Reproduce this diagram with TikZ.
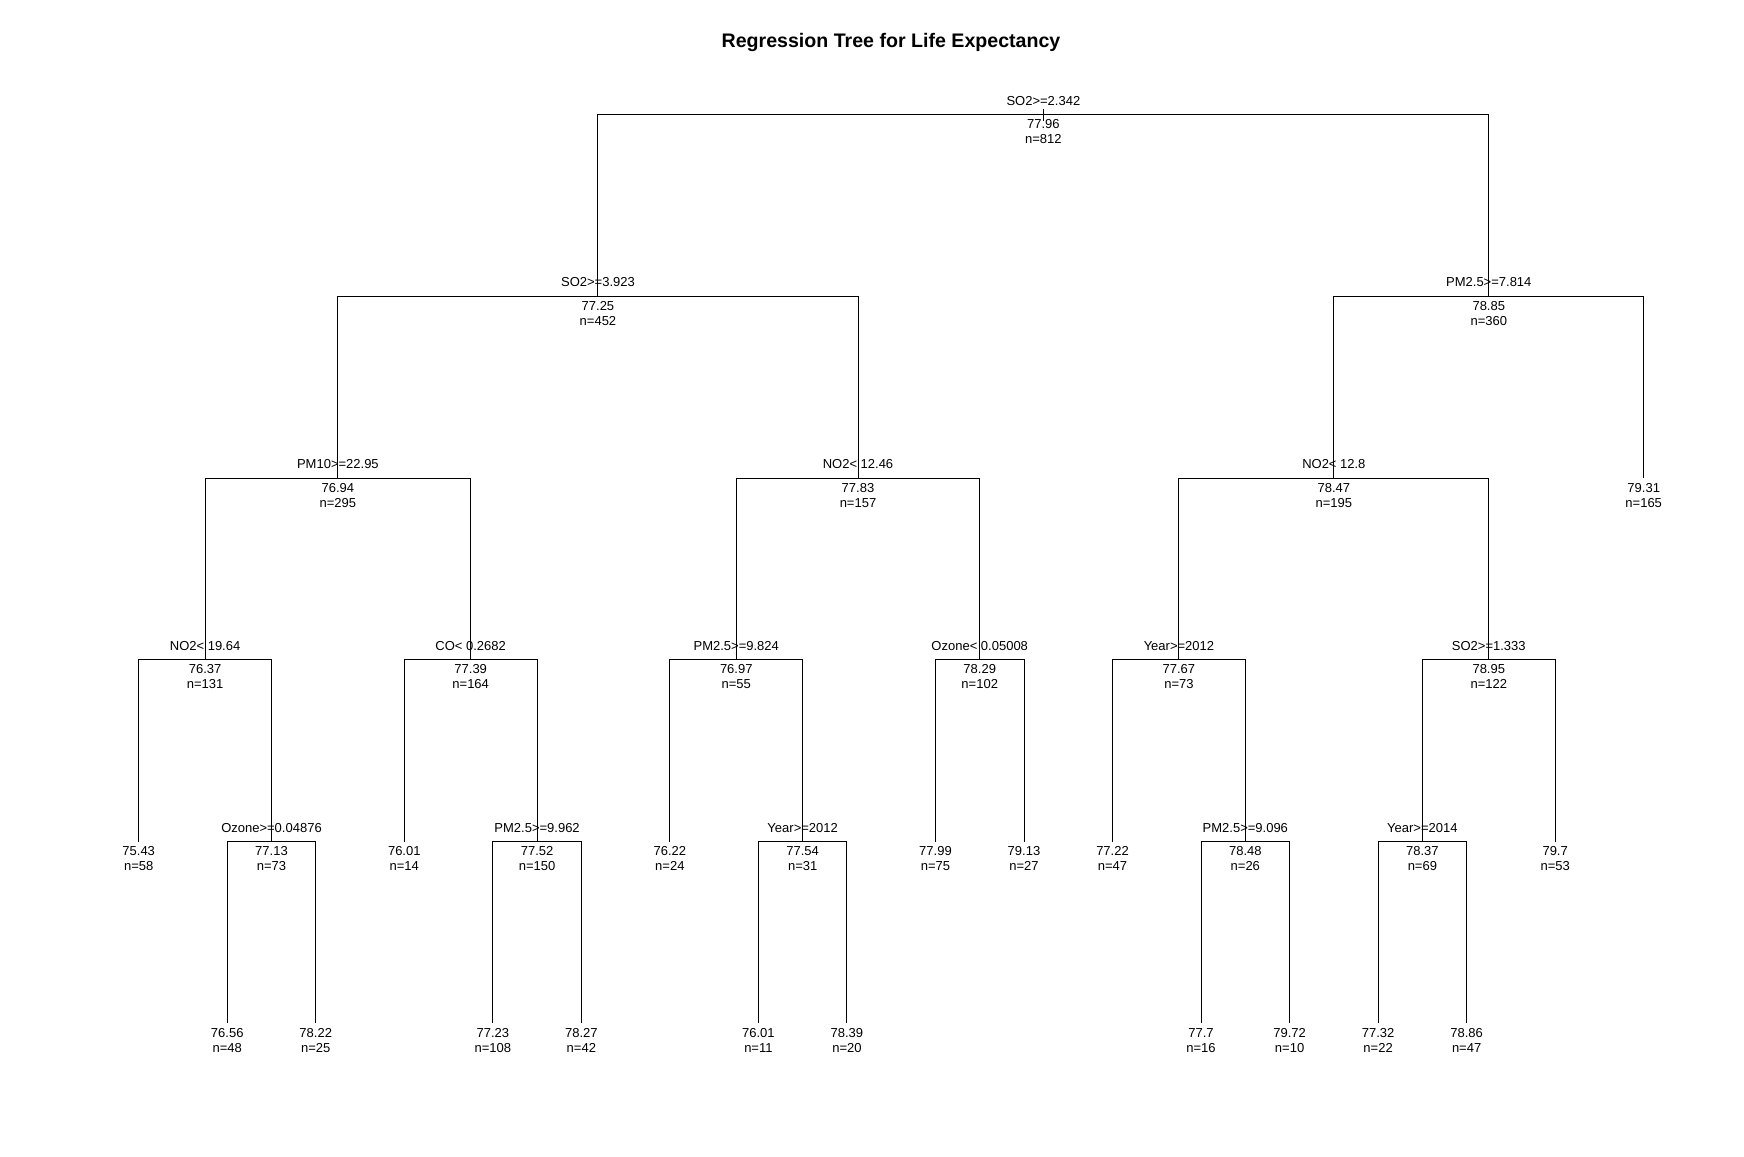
\documentclass[tikz,border=0pt]{standalone}
\usepackage{fontspec}
\setmainfont{Liberation Sans}
\usetikzlibrary{calc}
\newcommand{\mysplit}[6]{%
  \coordinate (#1) at (#2,#3);
  \node[lbl] (#1s) at ($(#1)+(0,-9.5)$) {#4};
  \node[lbl] (#1v) at ($(#1)+(0,14)$) {#5};
  \node[lbl] (#1n) at ($(#1)+(0,29)$) {#6};
}
\newcommand{\myleaf}[5]{%
  \coordinate (#1) at (#2,#3);
  \node[lbl] (#1v) at ($(#1)+(0,14)$) {#4};
  \node[lbl] (#1n) at ($(#1)+(0,29)$) {#5};
}
\begin{document}
\begin{tikzpicture}[x=1pt,y=-1pt,
  lbl/.style={anchor=base,inner sep=0pt,font=\fontsize{13}{15}\selectfont},
  ttl/.style={anchor=base,inner sep=0pt,font=\fontsize{19.6}{23}\selectfont\bfseries},
  branch/.style={draw=black,line width=1pt}]
\useasboundingbox (0,0) rectangle (1744,1156);
\fill[white] (0,0) rectangle (1744,1156);
\node[ttl] (title) at (891,48) {Regression Tree for Life Expectancy};
\begin{scope}[shift={(0.8,1)}]
% levels
\def\ya{113.5}\def\yb{295.25}\def\yc{477}\def\yd{658.75}\def\ye{840.5}\def\yf{1022.25}
% internal nodes
\mysplit{A}{1042.56}{\ya}{SO2>=2.342}{77.96}{n=812}
\mysplit{B}{597.15}{\yb}{SO2>=3.923}{77.25}{n=452}
\mysplit{C}{1487.98}{\yb}{PM2.5>=7.814}{78.85}{n=360}
\mysplit{D}{337.09}{\yc}{PM10>=22.95}{76.94}{n=295}
\mysplit{E}{857.20}{\yc}{NO2< 12.46}{77.83}{n=157}
\mysplit{N}{1333.05}{\yc}{NO2< 12.8}{78.47}{n=195}
\mysplit{F}{204.30}{\yd}{NO2< 19.64}{76.37}{n=131}
\mysplit{G}{469.89}{\yd}{CO< 0.2682}{77.39}{n=164}
\mysplit{J}{735.47}{\yd}{PM2.5>=9.824}{76.97}{n=55}
\mysplit{K}{978.93}{\yd}{Ozone< 0.05008}{78.29}{n=102}
\mysplit{O}{1178.12}{\yd}{Year>=2012}{77.67}{n=73}
\mysplit{P}{1487.97}{\yd}{SO2>=1.333}{78.95}{n=122}
\mysplit{H}{270.70}{\ye}{Ozone>=0.04876}{77.13}{n=73}
\mysplit{I}{536.28}{\ye}{PM2.5>=9.962}{77.52}{n=150}
\mysplit{M}{801.87}{\ye}{Year>=2012}{77.54}{n=31}
\mysplit{Q}{1244.52}{\ye}{PM2.5>=9.096}{78.48}{n=26}
\mysplit{R}{1421.58}{\ye}{Year>=2014}{78.37}{n=69}
% leaves
\myleaf{L1}{137.90}{\ye}{75.43}{n=58}
\myleaf{L2}{226.43}{\yf}{76.56}{n=48}
\myleaf{L3}{314.96}{\yf}{78.22}{n=25}
\myleaf{L4}{403.49}{\ye}{76.01}{n=14}
\myleaf{L5}{492.02}{\yf}{77.23}{n=108}
\myleaf{L6}{580.55}{\yf}{78.27}{n=42}
\myleaf{L7}{669.07}{\ye}{76.22}{n=24}
\myleaf{L8}{757.60}{\yf}{76.01}{n=11}
\myleaf{L9}{846.13}{\yf}{78.39}{n=20}
\myleaf{L10}{934.66}{\ye}{77.99}{n=75}
\myleaf{L11}{1023.19}{\ye}{79.13}{n=27}
\myleaf{L12}{1111.72}{\ye}{77.22}{n=47}
\myleaf{L13}{1200.25}{\yf}{77.7}{n=16}
\myleaf{L14}{1288.78}{\yf}{79.72}{n=10}
\myleaf{L15}{1377.31}{\yf}{77.32}{n=22}
\myleaf{L16}{1465.84}{\yf}{78.86}{n=47}
\myleaf{L17}{1554.37}{\ye}{79.7}{n=53}
\myleaf{L18}{1642.90}{\yc}{79.31}{n=165}
% root stub
\draw[branch] ($(A)+(0,-6)$) -- ($(A)+(0,6.5)$);
% branches
\draw[branch] (A) -| (B); \draw[branch] (A) -| (C);
\draw[branch] (B) -| (D); \draw[branch] (B) -| (E);
\draw[branch] (C) -| (N); \draw[branch] (C) -| (L18);
\draw[branch] (D) -| (F); \draw[branch] (D) -| (G);
\draw[branch] (E) -| (J); \draw[branch] (E) -| (K);
\draw[branch] (N) -| (O); \draw[branch] (N) -| (P);
\draw[branch] (F) -| (L1); \draw[branch] (F) -| (H);
\draw[branch] (G) -| (L4); \draw[branch] (G) -| (I);
\draw[branch] (J) -| (L7); \draw[branch] (J) -| (M);
\draw[branch] (K) -| (L10); \draw[branch] (K) -| (L11);
\draw[branch] (O) -| (L12); \draw[branch] (O) -| (Q);
\draw[branch] (P) -| (R); \draw[branch] (P) -| (L17);
\draw[branch] (H) -| (L2); \draw[branch] (H) -| (L3);
\draw[branch] (I) -| (L5); \draw[branch] (I) -| (L6);
\draw[branch] (M) -| (L8); \draw[branch] (M) -| (L9);
\draw[branch] (Q) -| (L13); \draw[branch] (Q) -| (L14);
\draw[branch] (R) -| (L15); \draw[branch] (R) -| (L16);
\end{scope}
\end{tikzpicture}
\end{document}
